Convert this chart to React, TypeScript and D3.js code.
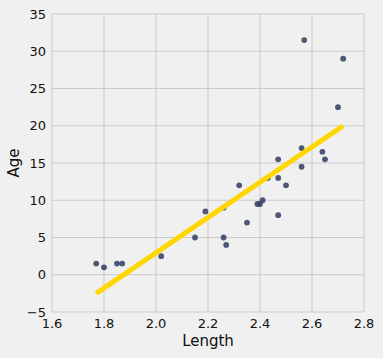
import React from "react";
import * as d3 from "d3";

const lengths = [1.77, 1.80, 1.85, 1.87, 2.02, 2.15, 2.19, 2.26, 2.27, 2.26, 2.32, 2.35, 2.39, 2.40, 2.41, 2.43, 2.47, 2.47, 2.50, 2.47, 2.56, 2.56, 2.57, 2.64, 2.65, 2.70, 2.72];
const ages = [1.5, 1.0, 1.5, 1.5, 2.5, 5, 8.5, 5, 4, 9, 12, 7, 9.5, 9.5, 10, 13, 13, 8, 12, 15.5, 14.5, 17, 31.5, 16.5, 15.5, 22.5, 29];
const fitX = [1.77, 2.72];
const fitY = [-2.5, 20];
const xTicks = [1.6, 1.8, 2.0, 2.2, 2.4, 2.6, 2.8];
const yTicks = [-5, 0, 5, 10, 15, 20, 25, 30, 35];

const W = 383, H = 358;
const L = 52, R = 364, T = 14, B = 312;

export default function App() {
  const x = d3.scaleLinear().domain([1.6, 2.8]).range([L, R]);
  const y = d3.scaleLinear().domain([-5, 35]).range([B, T]);
  const line = d3.line<number>().x((d, i) => x(fitX[i])).y((d) => y(d));
  const font = "DejaVu Sans, sans-serif";
  return (
    <svg width={W} height={H} style={{ position: "absolute", left: 0, top: 0 }}>
      <rect x={0} y={0} width={W} height={H} fill="#f0f0f0" />
      {xTicks.map((t) => (
        <line key={"gx" + t} x1={x(t)} x2={x(t)} y1={T} y2={B} stroke="#cbcbcb" strokeWidth={1} />
      ))}
      {yTicks.map((t) => (
        <line key={"gy" + t} x1={L} x2={R} y1={y(t)} y2={y(t)} stroke="#cbcbcb" strokeWidth={1} />
      ))}
      {xTicks.map((t) => (
        <text key={"tx" + t} x={x(t)} y={y(-5) + 16} textAnchor="middle" fontFamily={font} fontSize={13} fill="#111">
          {t.toFixed(1)}
        </text>
      ))}
      {yTicks.map((t) => (
        <text key={"ty" + t} x={L - 6} y={y(t) + 4.5} textAnchor="end" fontFamily={font} fontSize={13} fill="#111">
          {t < 0 ? "\u2212" + Math.abs(t) : String(t)}
        </text>
      ))}
      {lengths.map((v, i) => (
        <circle key={"p" + i} cx={x(v)} cy={y(ages[i])} r={2.9} fill="#2f3d60" fillOpacity={0.85} />
      ))}
      <path d={line(fitY) || ""} stroke="#ffd700" strokeWidth={5} fill="none" />
      <text x={(L + R) / 2} y={346} textAnchor="middle" fontFamily={font} fontSize={15} fill="#111">
        Length
      </text>
      <text transform={`translate(19,${(T + B) / 2}) rotate(-90)`} textAnchor="middle" fontFamily={font} fontSize={15} fill="#111">
        Age
      </text>
    </svg>
  );
}
